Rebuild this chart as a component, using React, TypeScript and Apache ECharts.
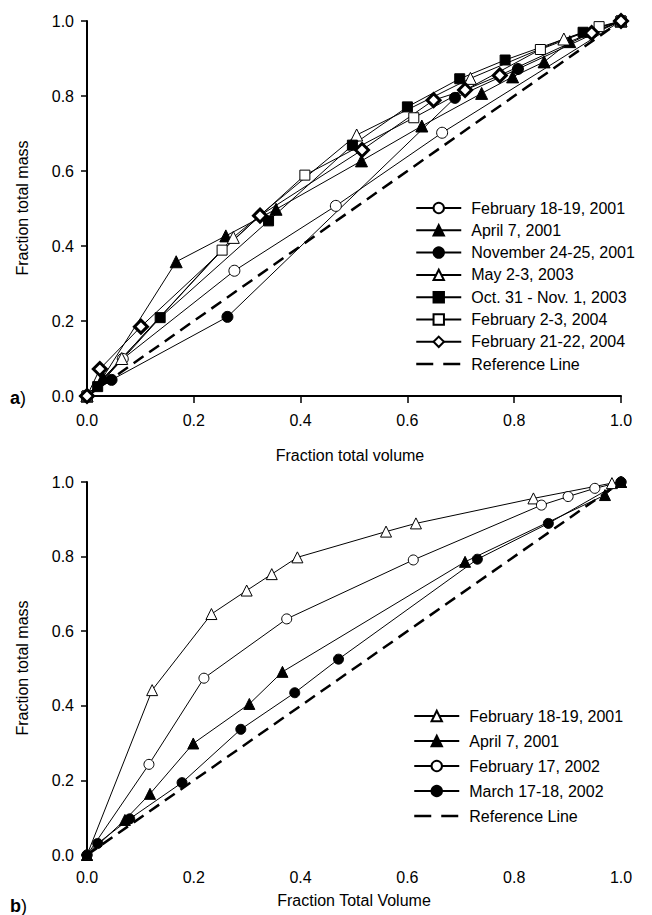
import React, { useEffect, useRef } from "react";
import * as echarts from "echarts";

// ---------- Panel a) data: [fraction total volume, fraction total mass] ----------
const feb1819_2001_a = [[0, 0], [0.067, 0.099], [0.276, 0.334], [0.466, 0.507], [0.665, 0.702], [1, 1]];
const apr7_2001_a = [[0, 0], [0.03, 0.05], [0.167, 0.358], [0.26, 0.427], [0.354, 0.498], [0.514, 0.627], [0.627, 0.72], [0.739, 0.807], [0.797, 0.851], [0.856, 0.891], [0.904, 0.945], [1, 1]];
const nov2425_2001_a = [[0, 0], [0.046, 0.043], [0.263, 0.211], [0.689, 0.795], [0.807, 0.872], [1, 1]];
const may23_2003_a = [[0, 0], [0.065, 0.1], [0.274, 0.423], [0.505, 0.696], [0.718, 0.847], [0.893, 0.952], [1, 1]];
const oct31_2003_a = [[0, 0], [0.02, 0.025], [0.137, 0.209], [0.34, 0.467], [0.497, 0.669], [0.6, 0.771], [0.698, 0.846], [0.783, 0.896], [0.929, 0.97], [1, 1]];
const feb23_2004_a = [[0, 0], [0.253, 0.389], [0.408, 0.589], [0.612, 0.742], [0.849, 0.924], [0.959, 0.985], [1, 1]];
const feb2122_2004_a = [[0, 0], [0.024, 0.072], [0.101, 0.185], [0.324, 0.481], [0.515, 0.656], [0.649, 0.789], [0.708, 0.816], [0.773, 0.855], [0.945, 0.968], [1, 1]];
const referenceLine = [[0, 0], [1, 1]];

// ---------- Panel b) data ----------
const feb1819_2001_b = [[0, 0], [0.122, 0.442], [0.233, 0.646], [0.299, 0.709], [0.346, 0.753], [0.394, 0.798], [0.56, 0.867], [0.616, 0.889], [0.836, 0.956], [0.983, 0.997], [1, 1]];
const apr7_2001_b = [[0, 0], [0.071, 0.094], [0.118, 0.164], [0.199, 0.299], [0.304, 0.405], [0.366, 0.491], [0.708, 0.786], [0.97, 0.965], [1, 1]];
const feb17_2002_b = [[0, 0], [0.116, 0.243], [0.219, 0.474], [0.374, 0.633], [0.611, 0.791], [0.851, 0.938], [0.901, 0.961], [0.951, 0.983], [1, 1]];
const mar1718_2002_b = [[0, 0], [0.02, 0.031], [0.08, 0.097], [0.178, 0.194], [0.288, 0.337], [0.389, 0.435], [0.471, 0.525], [0.731, 0.793], [0.864, 0.889], [1, 1]];

const tickLabels = ["0.0", "0.2", "0.4", "0.6", "0.8", "1.0"];

const namesA = ["February 18-19, 2001", "April 7, 2001", "November 24-25, 2001", "May 2-3, 2003", "Oct. 31 - Nov. 1, 2003", "February 2-3, 2004", "February 21-22, 2004", "Reference Line"];
const namesB = ["February 18-19, 2001", "April 7, 2001", "February 17, 2002", "March 17-18, 2002", "Reference Line"];

const FONT = "'Liberation Sans', Arial, sans-serif";
const SUFFIX = " \u2060b";

function mk(name: string, data: number[][], symbol: string, size: number, filled: boolean, g: number, bw = 1) {
  return {
    type: "line",
    name,
    xAxisIndex: g,
    yAxisIndex: g,
    data,
    symbol,
    symbolSize: size,
    showSymbol: true,
    lineStyle: { color: "#000", width: 1 },
    itemStyle: { color: filled ? "#000" : "#fff", borderColor: "#000", borderWidth: bw },
    emphasis: { disabled: true },
  };
}

function ref(name: string, g: number) {
  return {
    type: "line",
    name,
    xAxisIndex: g,
    yAxisIndex: g,
    data: referenceLine,
    symbol: "none",
    lineStyle: { color: "#000", width: 2.5, type: [12, 7] },
    itemStyle: { color: "#000" },
    emphasis: { disabled: true },
    z: 1,
  };
}

const fmt = (v: number) => tickLabels[Math.round(v / 0.2)] ?? v.toFixed(1);

function xAxis(g: number, showLine: boolean, margin: number) {
  return {
    type: "value",
    gridIndex: g,
    min: 0,
    max: 1,
    interval: 0.2,
    axisLine: { show: showLine, lineStyle: { color: "#000", width: 2 } },
    axisTick: { show: showLine, length: 7, lineStyle: { color: "#000", width: 1.5 } },
    axisLabel: { formatter: fmt, fontSize: 16, color: "#000", fontFamily: FONT, margin },
    splitLine: { show: false },
  };
}

function yAxis(g: number) {
  return {
    type: "value",
    gridIndex: g,
    min: 0,
    max: 1,
    interval: 0.2,
    axisLine: { show: true, lineStyle: { color: "#000", width: 2 } },
    axisTick: { show: true, length: 6, lineStyle: { color: "#000", width: 1.5 } },
    axisLabel: { formatter: fmt, fontSize: 16, color: "#000", fontFamily: FONT, margin: 13 },
    splitLine: { show: false },
  };
}

function legendData(names: string[], suffix: string) {
  return names.map((n) =>
    n === "Reference Line"
      ? { name: n + suffix, itemStyle: { opacity: 0 }, lineStyle: { color: "#000", width: 2.5, type: [17, 10] } }
      : { name: n + suffix }
  );
}

export default function App() {
  const ref1 = useRef<HTMLDivElement>(null);
  useEffect(() => {
    document.body.style.margin = "0";
    if (!ref1.current) return;
    const chart = echarts.init(ref1.current, null, { renderer: "svg" });
    const seriesA = [
      ref(namesA[7], 0),
      mk(namesA[0], feb1819_2001_a, "circle", 11, false, 0),
      mk(namesA[1], apr7_2001_a, "triangle", 12, true, 0),
      mk(namesA[2], nov2425_2001_a, "circle", 11, true, 0),
      mk(namesA[3], may23_2003_a, "triangle", 12, false, 0),
      mk(namesA[4], oct31_2003_a, "rect", 10, true, 0),
      mk(namesA[5], feb23_2004_a, "rect", 10, false, 0),
      mk(namesA[6], feb2122_2004_a, "diamond", 13, false, 0, 3),
    ];
    const seriesB = [
      ref(namesB[4] + SUFFIX, 1),
      mk(namesB[0] + SUFFIX, feb1819_2001_b, "triangle", 11, false, 1),
      mk(namesB[1] + SUFFIX, apr7_2001_b, "triangle", 11, true, 1),
      mk(namesB[2] + SUFFIX, feb17_2002_b, "circle", 10, false, 1),
      mk(namesB[3] + SUFFIX, mar1718_2002_b, "circle", 10, true, 1),
    ];
    const legendText = { fontSize: 16, color: "#000", fontFamily: FONT, padding: [0, 0, 0, 5] };
    chart.setOption({
      animation: false,
      backgroundColor: "#fff",
      textStyle: { fontFamily: FONT },
      grid: [
        { left: 87, top: 21, width: 534, height: 375 },
        { left: 87, top: 482, width: 534, height: 373 },
      ],
      xAxis: [xAxis(0, true, 16), xAxis(1, false, 14)],
      yAxis: [yAxis(0), yAxis(1)],
      legend: [
        {
          orient: "vertical",
          left: 415,
          top: 200,
          padding: 0,
          itemGap: 6.3,
          itemWidth: 45,
          itemHeight: 13,
          data: legendData(namesA, ""),
          textStyle: legendText,
          selectedMode: false,
        },
        {
          orient: "vertical",
          left: 413,
          top: 708,
          padding: 0,
          itemGap: 9,
          itemWidth: 45,
          itemHeight: 13,
          data: legendData(namesB, SUFFIX),
          formatter: (n: string) => n.replace(SUFFIX, ""),
          textStyle: legendText,
          selectedMode: false,
        },
      ],
      graphic: [
        { type: "text", x: 22, y: 208, rotation: Math.PI / 2, style: { text: "Fraction total mass", fontSize: 16, fill: "#000", fontFamily: FONT, textAlign: "center", textVerticalAlign: "middle" } },
        { type: "text", x: 350, y: 455, style: { text: "Fraction total volume", fontSize: 16, fill: "#000", fontFamily: FONT, textAlign: "center", textVerticalAlign: "middle" } },
        { type: "text", x: 22, y: 668, rotation: Math.PI / 2, style: { text: "Fraction total mass", fontSize: 16, fill: "#000", fontFamily: FONT, textAlign: "center", textVerticalAlign: "middle" } },
        { type: "text", x: 354, y: 900, style: { text: "Fraction Total Volume", fontSize: 16, fill: "#000", fontFamily: FONT, textAlign: "center", textVerticalAlign: "middle" } },
        { type: "text", x: 10, y: 398, style: { text: "{b|a})", fontSize: 18, fill: "#000", fontFamily: FONT, textVerticalAlign: "middle", rich: { b: { fontWeight: "bold", fontSize: 18, fontFamily: FONT } } } },
        { type: "text", x: 10, y: 906, style: { text: "{b|b})", fontSize: 18, fill: "#000", fontFamily: FONT, textVerticalAlign: "middle", rich: { b: { fontWeight: "bold", fontSize: 18, fontFamily: FONT } } } },
      ],
      series: [...seriesA, ...seriesB],
    });
    return () => chart.dispose();
  }, []);
  return <div ref={ref1} style={{ width: 652, height: 915 }} />;
}
